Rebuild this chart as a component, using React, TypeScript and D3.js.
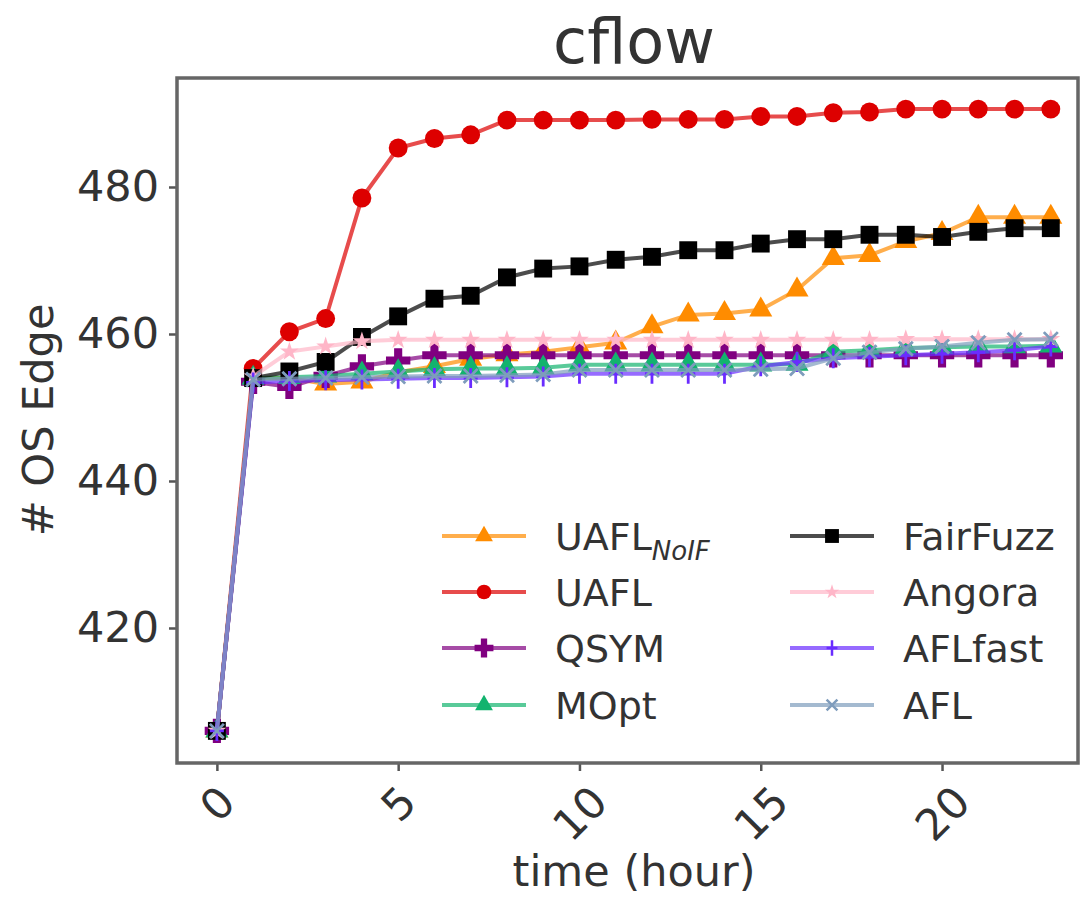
import { useEffect, useRef } from "react";
import * as d3 from "d3";

const hours = [0, 1, 2, 3, 4, 5, 6, 7, 8, 9, 10, 11, 12, 13, 14, 15, 16, 17, 18, 19, 20, 21, 22, 23];

const uaflNoIF = [406, 454, 454, 453.2, 453.5, 454.8, 455.6, 456.6, 457.2, 457.6, 458.2, 458.8, 461.0, 462.6, 462.8, 463.3, 466.0, 470.3, 470.7, 472.6, 473.7, 475.9, 475.9, 475.9];
const uafl = [406, 455.3, 460.3, 462.1, 478.5, 485.3, 486.6, 487.1, 489.1, 489.1, 489.1, 489.1, 489.2, 489.2, 489.2, 489.6, 489.6, 490.1, 490.2, 490.6, 490.6, 490.6, 490.6, 490.6];
const qsym = [406, 453.5, 452.8, 454.3, 455.6, 456.4, 457.1, 457.1, 457.1, 457.1, 457.1, 457.1, 457.1, 457.1, 457.1, 457.1, 457.1, 457.1, 457.1, 457.1, 457.1, 457.1, 457.1, 457.1];
const mopt = [406, 454, 454.1, 454.3, 454.6, 454.9, 455.2, 455.3, 455.3, 455.4, 455.8, 455.8, 455.8, 455.8, 455.8, 455.8, 455.9, 457.6, 457.8, 458.1, 458.2, 458.3, 458.3, 458.4];
const fairFuzz = [406, 454, 454.9, 456.2, 459.6, 462.4, 464.8, 465.2, 467.7, 468.9, 469.2, 470.1, 470.5, 471.4, 471.4, 472.3, 472.9, 472.9, 473.5, 473.5, 473.2, 473.9, 474.4, 474.4];
const angora = [406, 454.2, 457.6, 458.3, 459.0, 459.2, 459.2, 459.2, 459.2, 459.2, 459.2, 459.2, 459.2, 459.2, 459.2, 459.2, 459.2, 459.2, 459.2, 459.3, 459.3, 459.3, 459.3, 459.3];
const aflFast = [406, 453.4, 453.6, 453.7, 453.8, 453.9, 454.0, 454.0, 454.1, 454.2, 454.6, 454.6, 454.6, 454.6, 454.6, 455.6, 456.2, 456.7, 456.9, 457.1, 457.3, 457.5, 457.8, 458.3];
const afl = [406, 453.8, 453.9, 454.0, 454.1, 454.2, 454.3, 454.3, 454.4, 454.5, 455.1, 455.1, 455.1, 455.1, 455.1, 455.2, 455.3, 456.7, 457.5, 458.0, 458.3, 458.8, 459.2, 459.3];

const xTicks = [0, 5, 10, 15, 20];
const yTicks = [420, 440, 460, 480];

type Series = {
    name: string;
    sub?: string;
    values: number[];
    color: string;
    marker: string;
};

const series: Series[] = [
    { name: "UAFL", sub: "NoIF", values: uaflNoIF, color: "#ff8c00", marker: "triangle" },
    { name: "UAFL", values: uafl, color: "#dd0000", marker: "circle" },
    { name: "QSYM", values: qsym, color: "#800080", marker: "plus" },
    { name: "MOpt", values: mopt, color: "#12b36e", marker: "triangle" },
    { name: "FairFuzz", values: fairFuzz, color: "#000000", marker: "square" },
    { name: "Angora", values: angora, color: "#ffb6c8", marker: "star" },
    { name: "AFLfast", values: aflFast, color: "#6a2cff", marker: "vline" },
    { name: "AFL", values: afl, color: "#7e9cbc", marker: "x" },
];

function markerPath(marker: string, scale = 1) {
    const k = Math.sqrt(scale);
    switch (marker) {
        case "triangle":
            return { d: d3.symbol(d3.symbolTriangle, 230 * scale)()!, fill: true };
        case "circle":
            return { d: d3.symbol(d3.symbolCircle, 280 * scale)()!, fill: true };
        case "plus":
            return { d: d3.symbol(d3.symbolCross, 330 * scale)()!, fill: true };
        case "square":
            return { d: d3.symbol(d3.symbolSquare, 320 * scale)()!, fill: true };
        case "star":
            return { d: d3.symbol(d3.symbolStar, 110 * scale)()!, fill: true };
        case "vline":
            return { d: `M0,${-10 * k}V${10 * k}M${-7 * k},0H${7 * k}`, fill: false };
        default:
            return { d: d3.symbol(d3.symbolTimes, 130 * scale)()!, fill: false };
    }
}

export default function App() {
    const svgRef = useRef<SVGSVGElement | null>(null);

    useEffect(() => {
        const svg = d3.select(svgRef.current);
        svg.selectAll("*").remove();

        const width = 1081;
        const height = 897;
        const left = 177;
        const right = 1078;
        const top = 78;
        const bottom = 763;
        const font = "DejaVu Sans, sans-serif";
        const textColor = "#333";
        const tickFont = 43;

        svg.attr("width", width).attr("height", height);

        svg.append("rect")
            .attr("width", width)
            .attr("height", height)
            .attr("fill", "#fff");

        const xScale = d3.scaleLinear().domain([-1.1, 23.75]).range([left, right]);
        const yScale = d3.scaleLinear().domain([401.63, 494.83]).range([bottom, top]);

        svg.append("defs")
            .append("clipPath")
            .attr("id", "plot-clip")
            .append("rect")
            .attr("x", left)
            .attr("y", top)
            .attr("width", right - left)
            .attr("height", bottom - top);

        // axes
        const xAxis = svg.append("g")
            .attr("transform", `translate(0, ${bottom})`)
            .call(d3.axisBottom(xScale).tickValues(xTicks).tickSize(8).tickFormat(d3.format("d")));
        xAxis.select(".domain").remove();
        xAxis.selectAll("line").attr("stroke", "#555").attr("stroke-width", 2.5);
        xAxis.selectAll<SVGTextElement, number>("text")
            .attr("font-family", font)
            .attr("font-size", tickFont)
            .attr("fill", textColor)
            .attr("text-anchor", "middle")
            .attr("dy", null)
            .attr("y", 0)
            .attr("transform", (d) => {
                const len = String(d).length * 0.636 * tickFont;
                const h = (len + 0.73 * tickFont) * Math.SQRT1_2;
                return `translate(0, ${20 + h / 2}) rotate(-45)`;
            })
            .attr("dominant-baseline", "central");

        const yAxis = svg.append("g")
            .attr("transform", `translate(${left}, 0)`)
            .call(d3.axisLeft(yScale).tickValues(yTicks).tickSize(8).tickFormat(d3.format("d")));
        yAxis.select(".domain").remove();
        yAxis.selectAll("line").attr("stroke", "#555").attr("stroke-width", 2.5);
        yAxis.selectAll("text")
            .attr("font-family", font)
            .attr("font-size", tickFont)
            .attr("fill", textColor)
            .attr("x", -18);

        // lines and markers
        const plot = svg.append("g").attr("clip-path", "url(#plot-clip)");
        const line = d3.line<number>()
            .x((_, i) => xScale(hours[i]))
            .y((v) => yScale(v));

        series.forEach((s) => {
            plot.append("path")
                .datum(s.values)
                .attr("d", line)
                .attr("fill", "none")
                .attr("stroke", s.color)
                .attr("stroke-opacity", 0.7)
                .attr("stroke-width", 4);

            const m = markerPath(s.marker);
            plot.selectAll(null)
                .data(s.values)
                .join("path")
                .attr("transform", (v, i) => `translate(${xScale(hours[i])}, ${yScale(v)})`)
                .attr("d", m.d)
                .attr("fill", m.fill ? s.color : "none")
                .attr("stroke", s.color)
                .attr("stroke-width", m.fill ? 0 : 2.8);
        });

        // frame
        svg.append("rect")
            .attr("x", left)
            .attr("y", top)
            .attr("width", right - left)
            .attr("height", bottom - top)
            .attr("fill", "none")
            .attr("stroke", "#666")
            .attr("stroke-width", 3.5);

        // legend
        const legend = svg.append("g");
        const colX = [442, 790];
        const rowY = [536, 592, 648, 705];
        series.forEach((s, i) => {
            const cx = colX[Math.floor(i / 4)];
            const cy = rowY[i % 4];
            const g = legend.append("g").attr("transform", `translate(${cx}, ${cy})`);
            g.append("line")
                .attr("x1", 0)
                .attr("x2", 84)
                .attr("stroke", s.color)
                .attr("stroke-opacity", 0.7)
                .attr("stroke-width", 4);
            const m = markerPath(s.marker, 0.6);
            g.append("path")
                .attr("transform", "translate(42, 0)")
                .attr("d", m.d)
                .attr("fill", m.fill ? s.color : "none")
                .attr("stroke", s.color)
                .attr("stroke-width", m.fill ? 0 : 2.5);
            const t = g.append("text")
                .attr("x", 113)
                .attr("y", 0)
                .attr("dy", "0.36em")
                .attr("font-family", font)
                .attr("font-size", 38)
                .attr("fill", textColor)
                .text(s.name);
            if (s.sub) {
                t.append("tspan")
                    .attr("font-size", 26)
                    .attr("font-style", "italic")
                    .attr("dy", "0.4em")
                    .text(s.sub);
            }
        });

        // labels
        svg.append("text")
            .attr("x", 634)
            .attr("y", 63)
            .attr("text-anchor", "middle")
            .attr("font-family", font)
            .attr("font-size", 62)
            .attr("fill", textColor)
            .text("cflow");

        svg.append("text")
            .attr("x", 634)
            .attr("y", 886)
            .attr("text-anchor", "middle")
            .attr("font-family", font)
            .attr("font-size", 43)
            .attr("fill", textColor)
            .text("time (hour)");

        svg.append("text")
            .attr("transform", `translate(53, 420) rotate(-90)`)
            .attr("text-anchor", "middle")
            .attr("font-family", font)
            .attr("font-size", 43)
            .attr("fill", textColor)
            .text("# OS Edge");
    }, []);

    return (
        <svg
            ref={svgRef}
            style={{ position: "absolute", left: 0, top: 0, display: "block" }}
        />
    );
}
